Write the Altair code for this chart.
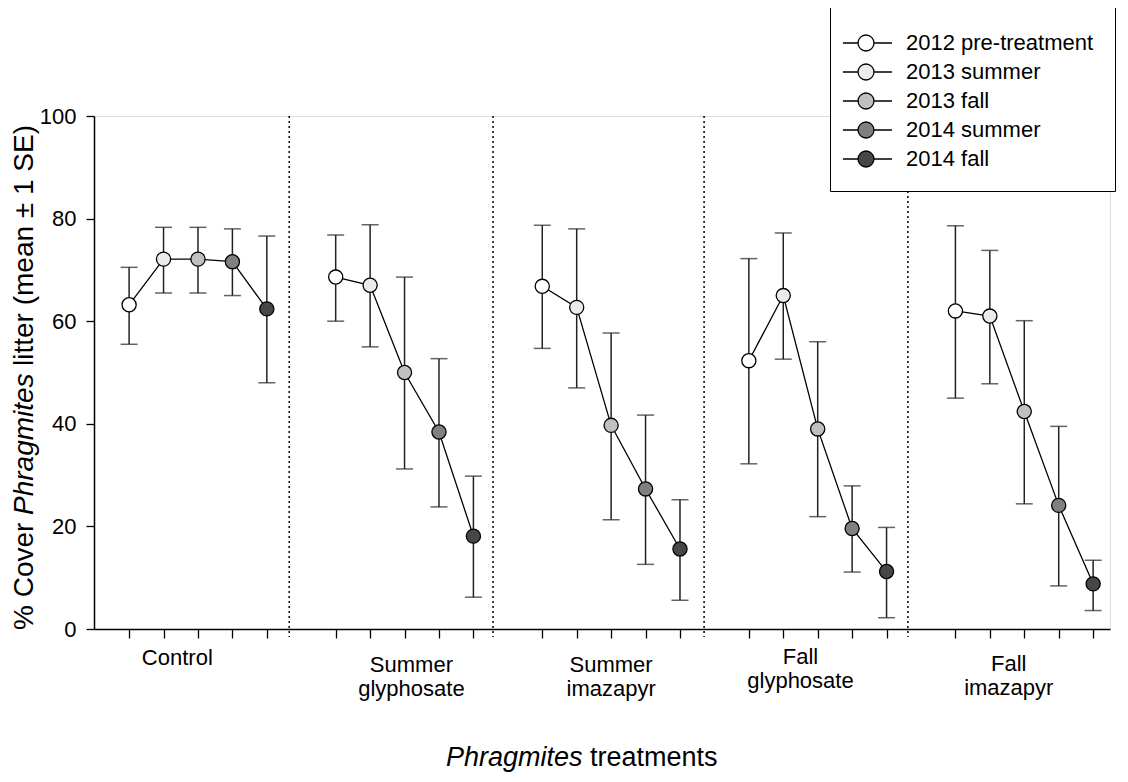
import altair as alt
import pandas as pd

# ---------------- data ----------------
treatments = ["Control", "Summer glyphosate", "Summer imazapyr", "Fall glyphosate", "Fall imazapyr"]
periods = ["2012 pre-treatment", "2013 summer", "2013 fall", "2014 summer", "2014 fall"]
period_colors = ["#ffffff", "#ebebeb", "#c0c0c0", "#808080", "#474747"]

means = [
    [63.2, 72.1, 72.1, 71.6, 62.4],
    [68.6, 67.0, 50.0, 38.4, 18.1],
    [66.8, 62.7, 39.7, 27.3, 15.6],
    [52.3, 65.0, 39.0, 19.6, 11.2],
    [62.0, 61.0, 42.4, 24.1, 8.8],
]
lows = [
    [55.5, 65.5, 65.5, 65.0, 48.0],
    [60.0, 55.0, 31.2, 23.8, 6.2],
    [54.7, 47.0, 21.3, 12.6, 5.6],
    [32.2, 52.6, 21.9, 11.1, 2.2],
    [45.0, 47.8, 24.4, 8.4, 3.6],
]
highs = [
    [70.5, 78.3, 78.3, 78.0, 76.6],
    [76.8, 78.8, 68.6, 52.7, 29.8],
    [78.7, 78.0, 57.7, 41.7, 25.2],
    [72.2, 77.2, 56.0, 27.9, 19.8],
    [78.6, 73.8, 60.1, 39.5, 13.4],
]

group_labels = ["Control", "Summer\nglyphosate", "Summer\nimazapyr", "Fall\nglyphosate", "Fall\nimazapyr"]
group_label_x = [1.4, 8.2, 14.0, 19.5, 25.55]
group_label_top = [532, 539, 539, 531, 538]
separators = [4.65, 10.57, 16.70, 22.62]
y_ticks = [0, 20, 40, 60, 80, 100]

# ---------------- layout ----------------
W, H = 1016, 513
FONT = "Liberation Sans"

rows = []
for g, t in enumerate(treatments):
    for p, per in enumerate(periods):
        rows.append({"treatment": t, "period": per, "pos": g * 6 + p,
                     "mean": means[g][p], "lo": lows[g][p], "hi": highs[g][p]})
df = pd.DataFrame(rows)
tick_positions = list(df["pos"])

xscale = alt.Scale(domain=[-1.02, 28.49], nice=False, zero=False)
yscale = alt.Scale(domain=[0, 100], nice=False)

x_enc = alt.X("pos:Q", scale=xscale,
              axis=alt.Axis(values=tick_positions, labels=False, title=None, grid=False,
                            tickSize=9, tickColor="black", tickWidth=1.3,
                            domainColor="black", domainWidth=1.5))
y_enc = alt.Y("mean:Q", scale=yscale,
              axis=alt.Axis(values=y_ticks, title=None, grid=False, tickSize=8,
                            tickColor="black", tickWidth=1.3, domainColor="black",
                            domainWidth=1.5, labelFontSize=22, labelColor="black",
                            labelPadding=10, labelFont=FONT))

base = alt.Chart(df)

seps = alt.Chart(pd.DataFrame({"s": separators})).mark_rule(
    color="black", strokeDash=[2, 3], strokeWidth=1.5
).encode(x=alt.X("s:Q", scale=xscale), y=alt.value(0), y2=alt.value(H + 8))

bars = base.mark_rule(color="#222222", strokeWidth=1.5).encode(
    x=x_enc, y=alt.Y("lo:Q", scale=yscale), y2="hi:Q")
caps_lo = base.mark_tick(color="#222222", orient="horizontal", size=17, thickness=1.5).encode(
    x=alt.X("pos:Q", scale=xscale), y=alt.Y("lo:Q", scale=yscale))
caps_hi = base.mark_tick(color="#222222", orient="horizontal", size=17, thickness=1.5).encode(
    x=alt.X("pos:Q", scale=xscale), y=alt.Y("hi:Q", scale=yscale))

line = base.mark_line(color="black", strokeWidth=1.3).encode(
    x=alt.X("pos:Q", scale=xscale), y=y_enc, detail="treatment:N")

legend_path = ("M-1.62,0L-0.56,0M0.56,0L1.82,0"
               "M0.56,0A0.56,0.56,0,1,1,-0.56,0A0.56,0.56,0,1,1,0.56,0Z")

points = base.mark_point(filled=True, size=200, stroke="black", strokeWidth=1.3, opacity=1).encode(
    x=alt.X("pos:Q", scale=xscale), y=alt.Y("mean:Q", scale=yscale),
    fill=alt.Fill("period:N", scale=alt.Scale(domain=periods, range=period_colors),
                  legend=alt.Legend(title=None, orient="none", legendX=736, legendY=-109,
                                    padding=21, symbolType=legend_path, symbolSize=812,
                                    symbolStrokeColor="black", symbolStrokeWidth=1.3,
                                    labelOffset=25, rowPadding=3, labelFontSize=22,
                                    labelFont=FONT, labelColor="black",
                                    strokeColor="black", fillColor="white",
                                    labelLimit=400)),
)

labels = alt.Chart(pd.DataFrame({"lab": group_labels, "lx": group_label_x, "ly": group_label_top})).mark_text(
    fontSize=22, font=FONT, color="black", align="center", baseline="top", lineBreak="\n", lineHeight=24
).encode(x=alt.X("lx:Q", scale=xscale), y=alt.Y("ly:Q", scale=None), text="lab:N")

ytitle_parts = pd.DataFrame({
    "t": ["% Cover", "Phragmites", "litter (mean \u00b1 1 SE)"],
    "yy": [514, 399, 250],
    "st": ["normal", "italic", "normal"],
})
ytitle_n = alt.Chart(ytitle_parts[ytitle_parts.st == "normal"]).mark_text(
    fontSize=28, font=FONT, color="black", angle=270, align="left", baseline="middle"
).encode(x=alt.value(-69), y=alt.Y("yy:Q", scale=None), text="t:N")
ytitle_i = alt.Chart(ytitle_parts[ytitle_parts.st == "italic"]).mark_text(
    fontSize=28, font=FONT, color="black", angle=270, align="left", baseline="middle", fontStyle="italic"
).encode(x=alt.value(-69), y=alt.Y("yy:Q", scale=None), text="t:N")

xtitle_parts = pd.DataFrame({"t": ["Phragmites", "treatments"], "xx": [352, 496],
                             "st": ["italic", "normal"]})
xtitle_i = alt.Chart(xtitle_parts[xtitle_parts.st == "italic"]).mark_text(
    fontSize=27, font=FONT, color="black", align="left", baseline="middle", fontStyle="italic"
).encode(x=alt.X("xx:Q", scale=None), y=alt.value(642), text="t:N")
xtitle_n = alt.Chart(xtitle_parts[xtitle_parts.st == "normal"]).mark_text(
    fontSize=27, font=FONT, color="black", align="left", baseline="middle"
).encode(x=alt.X("xx:Q", scale=None), y=alt.value(642), text="t:N")

chart = alt.layer(
    seps, bars, caps_lo, caps_hi, line, points, labels, ytitle_n, ytitle_i, xtitle_i, xtitle_n
).resolve_scale(x="shared", y="shared").properties(
    width=W, height=H,
    autosize=alt.AutoSizeParams(type="none"),
    padding={"left": 86, "top": 108, "right": 10, "bottom": 145},
).configure_view(stroke="#222222", strokeWidth=1.2).configure(font=FONT, background="white")

chart.save("out.html", embed_options={"renderer": "svg", "actions": False})
